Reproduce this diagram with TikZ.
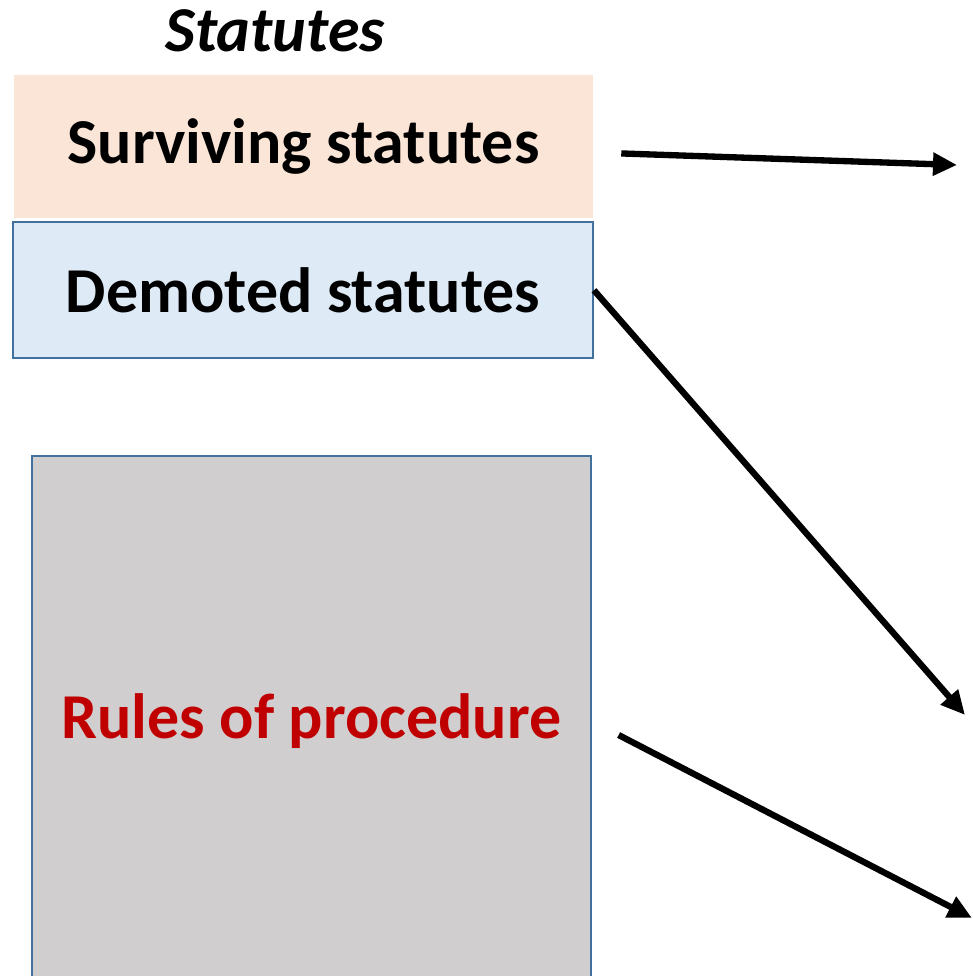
\documentclass[tikz,border=0pt]{standalone}
\usepackage{fontspec}
\setmainfont{Carlito}
\usetikzlibrary{arrows.meta, positioning}
\definecolor{peach}{HTML}{FBE5D6}
\definecolor{paleblue}{HTML}{DEEBF7}
\definecolor{edgeblue}{HTML}{41719C}
\definecolor{boxgrey}{HTML}{D0CECE}
\definecolor{darkred}{HTML}{C00000}

\begin{document}
\begin{tikzpicture}[
    node distance=0.075cm and 1cm,
    every node/.style={font=\fontsize{45.5}{54}\selectfont\bfseries, text centered, inner sep=0pt},
    box/.style={draw=edgeblue, line width=1.4pt},
    arrow/.style={-{Triangle[length=0.6cm, width=0.55cm]}, line width=4.5pt}
]
\useasboundingbox (0,0) rectangle (24.3,24.4);

% Nodes
\node (surv) [fill=peach, minimum width=14.475cm, minimum height=3.575cm] at (7.5875,20.7375) {Surviving statutes};
\node (dem) [box, fill=paleblue, minimum width=14.5cm, minimum height=3.4cm, below=of surv, xshift=-0.0125cm] {Demoted statutes};
\node (rules) [box, fill=boxgrey, text=darkred, minimum width=13.975cm, minimum height=13.25cm, below=2.4cm of dem, xshift=0.2125cm] {Rules of procedure};
\node (title) [font=\fontsize{45.5}{54}\selectfont\bfseries\itshape, above=0.55cm of surv, xshift=-0.7125cm] {Statutes};

% Free ends
\coordinate (survto) at (23.925,20.275);
\coordinate (demto) at (24.125,6.525);
\coordinate (rulesto) at (24.3,1.45);

% Edges
\draw [arrow, shorten <=0.7cm] ([yshift=-0.15cm]surv.east) -- (survto);
\draw [arrow] (dem.east) -- (demto);
\draw [arrow, shorten <=0.75cm] (rules.east) -- (rulesto);

\end{tikzpicture}
\end{document}
